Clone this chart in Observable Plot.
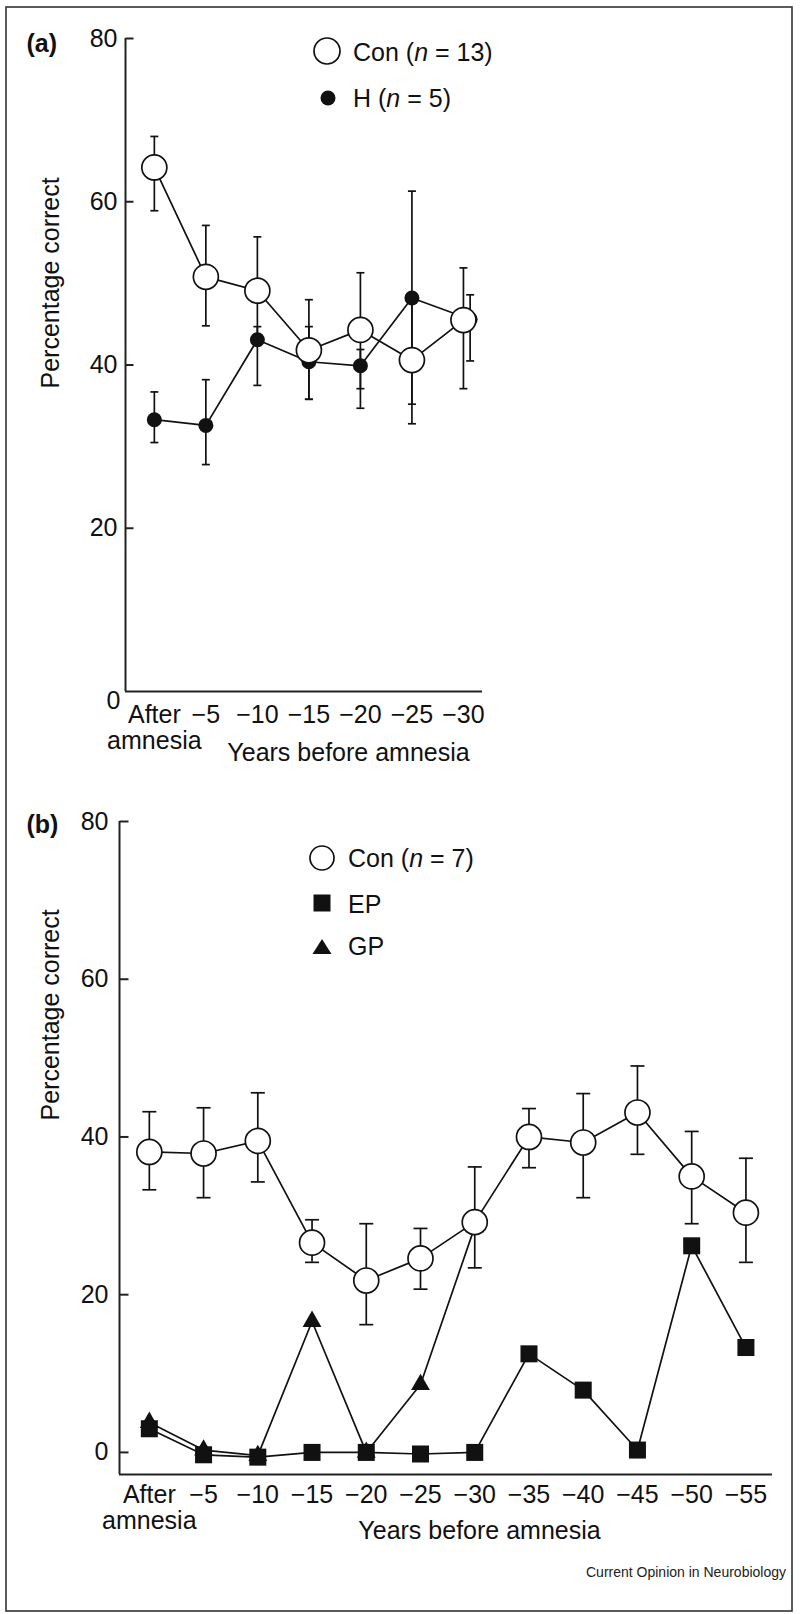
<!DOCTYPE html>
<html>
<head>
<meta charset="utf-8">
<script src="https://cdn.jsdelivr.net/npm/d3@7"></script>
<script src="https://cdn.jsdelivr.net/npm/@observablehq/plot@0.6"></script>
<style>
html, body { margin: 0; padding: 0; background: #fff; }
#page { position: relative; width: 800px; height: 1614px; background: #fff; overflow: hidden; }
#overlay { position: absolute; left: 0; top: 0; pointer-events: none; }
</style>
</head>
<body>
<div id="page">
<svg id="overlay" width="800" height="1614" font-family="'Liberation Sans', Arial, Helvetica, sans-serif" font-size="25" fill="#111">
  <rect x="6" y="7" width="786" height="1604" fill="none" stroke="#333" stroke-width="1.6"/>
  <!-- legend (a) -->
  <circle cx="327" cy="51" r="13" fill="#fff" stroke="#111" stroke-width="1.7"/>
  <text x="353" y="61">Con (<tspan font-style="italic">n</tspan> = 13)</text>
  <circle cx="328" cy="98" r="7.5" fill="#111"/>
  <text x="353" y="107">H (<tspan font-style="italic">n</tspan> = 5)</text>
  <!-- legend (b) -->
  <circle cx="322" cy="858" r="12" fill="#fff" stroke="#111" stroke-width="1.7"/>
  <text x="348" y="867">Con (<tspan font-style="italic">n</tspan> = 7)</text>
  <rect x="313.5" y="894.5" width="17" height="17" fill="#111"/>
  <text x="348" y="913">EP</text>
  <polygon points="312.5,954 331.5,954 322,939" fill="#111"/>
  <text x="348" y="955">GP</text>
  <text x="786" y="1577" font-size="14" text-anchor="end" fill="#222">Current Opinion in Neurobiology</text>
</svg>
</div>
<script>
// ---------- Panel (a) data ----------
const xLabelsA = ["After\namnesia", "\u22125", "\u221210", "\u221215", "\u221220", "\u221225", "\u221230"];
const yTicksA = [20, 40, 60, 80];
const posConA = [0, 1, 2, 3, 4, 5, 6];
const conA    = [64.2, 50.8, 49.1, 41.8, 44.3, 40.6, 45.5];
const conALo  = [58.9, 44.8, 42.4, 35.8, 37.1, 32.8, 37.1];
const conAHi  = [68.0, 57.1, 55.7, 48.0, 51.3, 48.4, 51.9];
const posHA   = [0, 1, 2, 3, 4, 5, 6.13];
const hA      = [33.3, 32.6, 43.1, 40.4, 39.9, 48.2, 45.6];
const hALo    = [30.5, 27.8, 37.5, 35.8, 34.7, 35.2, 40.5];
const hAHi    = [36.7, 38.2, 44.7, 44.7, 41.9, 61.3, 48.6];

// ---------- Panel (b) data ----------
const xLabelsB = ["After\namnesia", "\u22125", "\u221210", "\u221215", "\u221220", "\u221225", "\u221230",
                  "\u221235", "\u221240", "\u221245", "\u221250", "\u221255"];
const yTicksB = [0, 20, 40, 60, 80];
const conB   = [38.1, 37.9, 39.5, 26.6, 21.8, 24.6, 29.2, 40.0, 39.3, 43.1, 35.0, 30.4];
const conBLo = [33.3, 32.3, 34.3, 24.1, 16.2, 20.7, 23.4, 36.1, 32.3, 37.8, 29.0, 24.1];
const conBHi = [43.2, 43.7, 45.6, 29.5, 29.0, 28.4, 36.2, 43.6, 45.5, 49.0, 40.7, 37.3];
const epB    = [3.0, -0.3, -0.6, 0.0, 0.0, -0.2, 0.0, 12.5, 7.9, 0.3, 26.2, 13.3];
const gpB    = [3.8, 0.3, -0.4, 16.6, 0.0, 8.6, 28.6];

// ---------- styling ----------
const INK = "#111";
const AX = "#222";
const FONT = "'Liberation Sans', Arial, Helvetica, sans-serif";
const plotStyle = {fontFamily: FONT, fontSize: "25px", color: INK, background: "transparent", overflow: "visible"};
const capSymbol = (w) => ({draw(ctx) { ctx.moveTo(-w, 0); ctx.lineTo(w, 0); }});
const tickSymbol = (w) => ({draw(ctx) { ctx.moveTo(0, 0); ctx.lineTo(w, 0); }});

function errorMarks(recs, capW) {
  return [
    Plot.ruleX(recs, {x: "x", y1: "lo", y2: "hi", stroke: INK, strokeWidth: 1.7}),
    Plot.dot(recs, {x: "x", y: "lo", symbol: capSymbol(capW), fill: "none", stroke: INK, strokeWidth: 1.7}),
    Plot.dot(recs, {x: "x", y: "hi", symbol: capSymbol(capW), fill: "none", stroke: INK, strokeWidth: 1.7})
  ];
}

// ---------- Panel (a) ----------
const recConA = conA.map((v, k) => ({x: posConA[k], v, lo: conALo[k], hi: conAHi[k]}));
const recHA = hA.map((v, k) => ({x: posHA[k], v, lo: hALo[k], hi: hAHi[k]}));
const xMinA = -0.56, xMaxA = 6.37;

const plotA = Plot.plot({
  width: 800, height: 770,
  marginTop: 38, marginBottom: 79, marginLeft: 125, marginRight: 318,
  x: {domain: [xMinA, xMaxA], axis: null},
  y: {domain: [0, 80], axis: null},
  style: plotStyle,
  marks: [
    Plot.ruleX([xMinA], {stroke: AX, strokeWidth: 2}),
    Plot.ruleY([0], {stroke: AX, strokeWidth: 2}),
    Plot.dot(yTicksA, {x: () => xMinA, y: d => d, symbol: tickSymbol(8), fill: "none", stroke: AX, strokeWidth: 2}),
    Plot.text(yTicksA, {x: () => xMinA, y: d => d, text: d => String(d), textAnchor: "end", dx: -8}),
    Plot.text(["0"], {x: () => xMinA, y: () => 0, text: d => d, textAnchor: "end", dx: -5, dy: 9}),
    Plot.text(xLabelsA, {x: (d, k) => k, y: () => 0, text: d => d, lineAnchor: "top", lineHeight: 1.04, dy: 13}),
    Plot.text(["Years before amnesia"], {frameAnchor: "bottom", text: d => d, lineAnchor: "bottom", dx: 44.5, dy: 69}),
    Plot.text(["Percentage correct"], {frameAnchor: "left", text: d => d, rotate: -90, dx: -75, dy: 23.5}),
    Plot.text(["(a)"], {frameAnchor: "top-left", text: d => d, textAnchor: "start", lineAnchor: "bottom", fontWeight: "bold", dx: -99, dy: 13}),
    ...errorMarks(recConA, 4),
    ...errorMarks(recHA, 4),
    Plot.line(recHA, {x: "x", y: "v", stroke: INK, strokeWidth: 1.7}),
    Plot.line(recConA, {x: "x", y: "v", stroke: INK, strokeWidth: 1.7}),
    Plot.dot(recHA, {x: "x", y: "v", r: 7.5, fill: INK, stroke: "none"}),
    Plot.dot(recConA, {x: "x", y: "v", r: 12.5, fill: "#fff", stroke: INK, strokeWidth: 1.7})
  ]
});

// ---------- Panel (b) ----------
const recConB = conB.map((v, k) => ({x: k, v, lo: conBLo[k], hi: conBHi[k]}));
const recEP = epB.map((v, k) => ({x: k, v}));
const recGP = gpB.map((v, k) => ({x: k, v}));
const xMinB = -0.55, xMaxB = 11.49, yMinB = -2.8;

const plotB = Plot.plot({
  width: 800, height: 844,
  marginTop: 51, marginBottom: 140, marginLeft: 119, marginRight: 28,
  x: {domain: [xMinB, xMaxB], axis: null},
  y: {domain: [yMinB, 80], axis: null},
  style: plotStyle,
  marks: [
    Plot.ruleX([xMinB], {stroke: AX, strokeWidth: 2}),
    Plot.ruleY([yMinB], {stroke: AX, strokeWidth: 2}),
    Plot.dot(yTicksB, {x: () => xMinB, y: d => d, symbol: tickSymbol(9), fill: "none", stroke: AX, strokeWidth: 2}),
    Plot.text(yTicksB, {x: () => xMinB, y: d => d, text: d => String(d), textAnchor: "end", dx: -11}),
    Plot.text(xLabelsB, {x: (d, k) => k, y: () => yMinB, text: d => d, lineAnchor: "top", lineHeight: 1.04, dy: 10}),
    Plot.text(["Years before amnesia"], {frameAnchor: "bottom", text: d => d, lineAnchor: "bottom", dx: 33.5, dy: 64}),
    Plot.text(["Percentage correct"], {frameAnchor: "left", text: d => d, rotate: -90, dx: -69, dy: -27.5}),
    Plot.text(["(b)"], {frameAnchor: "top-left", text: d => d, textAnchor: "start", lineAnchor: "bottom", fontWeight: "bold", dx: -93, dy: 11}),
    ...errorMarks(recConB, 7),
    Plot.line(recGP, {x: "x", y: "v", stroke: INK, strokeWidth: 1.7}),
    Plot.line(recEP, {x: "x", y: "v", stroke: INK, strokeWidth: 1.7}),
    Plot.line(recConB, {x: "x", y: "v", stroke: INK, strokeWidth: 1.7}),
    Plot.dot(recGP, {x: "x", y: "v", symbol: "triangle", r: 7, fill: INK, stroke: "none"}),
    Plot.dot(recEP, {x: "x", y: "v", symbol: "square", r: 9.6, fill: INK, stroke: "none"}),
    Plot.dot(recConB, {x: "x", y: "v", r: 12.5, fill: "#fff", stroke: INK, strokeWidth: 1.7})
  ]
});

const page = document.getElementById("page");
const overlay = document.getElementById("overlay");
plotA.style.position = "absolute"; plotA.style.left = "0px"; plotA.style.top = "0px";
plotB.style.position = "absolute"; plotB.style.left = "0px"; plotB.style.top = "770px";
page.insertBefore(plotA, overlay);
page.insertBefore(plotB, overlay);
</script>
</body>
</html>
